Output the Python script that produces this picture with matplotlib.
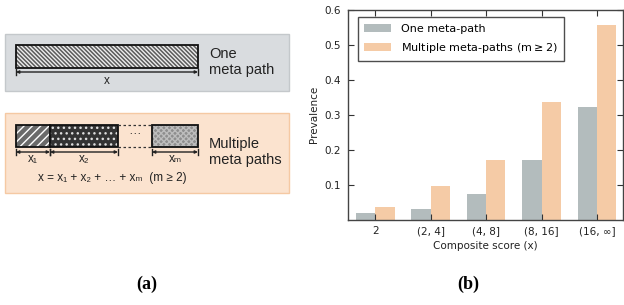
import numpy as np
import matplotlib.pyplot as plt
from matplotlib.patches import Rectangle

# composite score buckets and prevalence for each group
categories = ['2', '(2, 4]', '(4, 8]', '(8, 16]', '(16, ∞]']
one_path = [0.018, 0.030, 0.073, 0.171, 0.322]
multi_path = [0.036, 0.097, 0.171, 0.335, 0.556]
series_labels = ['One meta-path', 'Multiple meta-paths (m$\\geq$2)']

gray = '#b3bcbd'
peach = '#f5cba6'

fig = plt.figure(figsize=(6.24, 3.05), dpi=100)

# ---- panel (a): schematic drawn in pixel coordinates ----
da = fig.add_axes([0, 0, 1, 1])
da.set_xlim(0, 624)
da.set_ylim(305, 0)
da.axis('off')

sans = ['Liberation Sans', 'DejaVu Sans']

def box(x0, y0, x1, y1, **kw):
    da.add_patch(Rectangle((x0, y0), x1 - x0, y1 - y0, **kw))

def segment(x0, x1, y, label, ly):
    da.annotate('', xy=(x1, y), xytext=(x0, y),
                arrowprops=dict(arrowstyle='<|-|>', color='#222', lw=1.0,
                                mutation_scale=4, shrinkA=0, shrinkB=0))
    for xx in (x0, x1):
        da.plot([xx, xx], [y - 3, y + 3], color='#222', lw=1.0)
    da.text((x0 + x1) / 2, ly, label, ha='center', va='center',
            fontsize=8.5, family=sans, color='#222')

def hatched(x0, y0, x1, y1, fc, hatch, hc):
    box(x0, y0, x1, y1, facecolor=fc, edgecolor=hc, hatch=hatch, lw=0)
    box(x0, y0, x1, y1, facecolor='none', edgecolor='#111', lw=1.3)

# one meta path
box(5, 34, 289, 90.5, facecolor='#d9dcdf', edgecolor='#c4c8cb', lw=1)
hatched(16, 45, 198, 68, '#5c5c5c', '\\' * 8, '#eeeeee')
segment(16, 198, 72, 'x', 81)
da.text(209, 62, 'One\nmeta path', ha='left', va='center', fontsize=10.5,
        family=sans, color='#222', linespacing=1.2)

# multiple meta paths
box(5, 113, 289, 193, facecolor='#fbe3cf', edgecolor='#f5c9a3', lw=1)
hatched(16, 125, 50, 147, '#6a6a6a', '////', 'white')
hatched(50, 125, 118, 147, '#333333', '...', '#dddddd')
hatched(152, 125, 198, 147, '#8e8e8e', 'xxxxxx', '#bdbdbd')
da.plot([118, 152], [125, 125], color='#333', lw=0.9, ls=(0, (2, 2)))
da.plot([118, 152], [147, 147], color='#333', lw=0.9, ls=(0, (2, 2)))
da.text(135, 131, '…', ha='center', va='center', fontsize=9, family=sans,
        color='#222')
segment(16, 50, 152, 'x₁', 159)
segment(50, 118, 152, 'x₂', 159)
segment(152, 198, 152, 'xₘ', 159)
da.text(112, 178, 'x = x₁ + x₂ + … + xₘ  (m ≥ 2)', ha='center', va='center',
        fontsize=8.5, family=sans, color='#222')
da.text(209, 152, 'Multiple\nmeta paths', ha='left', va='center', fontsize=10.5,
        family=sans, color='#222', linespacing=1.2)

da.text(147, 284, '(a)', ha='center', va='center', fontsize=13,
        fontweight='bold', family='Liberation Serif')
da.text(468, 284, '(b)', ha='center', va='center', fontsize=13,
        fontweight='bold', family='Liberation Serif')

# ---- panel (b): bar chart ----
ax = fig.add_axes([0.5577, 0.2803, 0.4407, 0.6885])
x = np.arange(len(categories))
w = 0.35
ax.bar(x - w / 2, one_path, w, color=gray, label=series_labels[0], lw=0)
ax.bar(x + w / 2, multi_path, w, color=peach, label=series_labels[1], lw=0)

ax.set_xlim(-0.49, 4.47)
ax.set_ylim(0, 0.6)
ax.set_xticks(x)
ax.set_xticklabels(categories)
ax.set_yticks([0.1, 0.2, 0.3, 0.4, 0.5, 0.6])
ax.tick_params(direction='in', top=True, right=True, length=4, width=0.8,
               labelsize=7.5, colors='#333', pad=5)
ax.tick_params(axis='x', labelcolor='#222')
ax.tick_params(axis='y', labelcolor='#222')
for s in ax.spines.values():
    s.set_color('#444')
    s.set_linewidth(1.0)

ax.set_ylabel('Prevalence', fontsize=7.5, color='#222', labelpad=4)
ax.set_xlabel('Composite score (x)', fontsize=7.5, color='#222', labelpad=3)

leg = ax.legend(loc='upper left', fontsize=8, fancybox=False,
                edgecolor='#222', handlelength=2.4, handleheight=0.8,
                borderpad=0.6, labelspacing=0.6, handletextpad=0.9,
                bbox_to_anchor=(0.015, 0.99))
leg.get_frame().set_linewidth(1.0)

fig.savefig('out.png', dpi=100)
